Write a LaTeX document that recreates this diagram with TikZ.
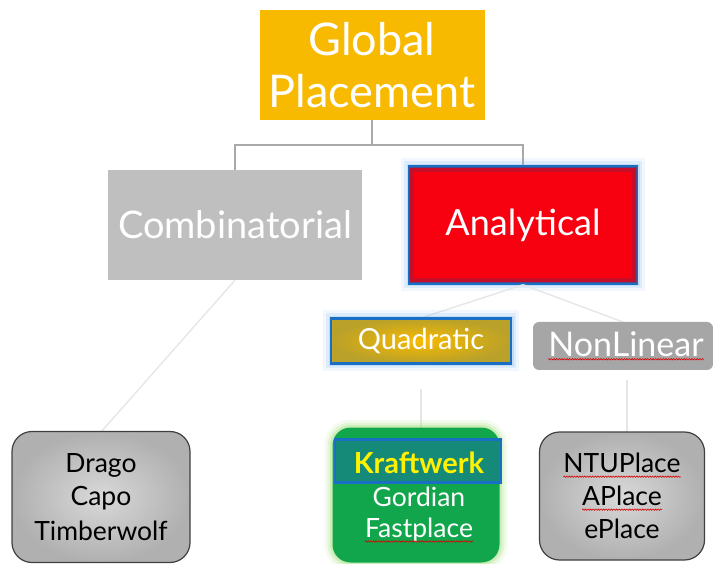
\documentclass[tikz,border=0pt]{standalone}
\usepackage{fontspec}
\setmainfont{Lato}
\usetikzlibrary{decorations.pathmorphing}

\definecolor{gpOrange}{HTML}{F8BA00}
\definecolor{gpOlive}{HTML}{B9A12A}
\definecolor{gpGray}{HTML}{BFBFBF}
\definecolor{gpDark}{HTML}{A6A6A6}
\definecolor{gpRed}{HTML}{F70010}
\definecolor{gpMaroon}{HTML}{8C2048}
\definecolor{gpBlue}{HTML}{1A6FC4}
\definecolor{gpGlow}{HTML}{8CC0F2}
\definecolor{gpGreen}{HTML}{12A64C}
\definecolor{gpTeal}{HTML}{168A78}
\definecolor{gpLime}{HTML}{9EE07A}
\definecolor{gpLine}{HTML}{A9A9A9}
\definecolor{gpFaint}{HTML}{E6E6E6}

\tikzset{
  box/.style={rectangle, text=white, inner sep=0pt, align=center},
  glowing/.style={
    preaction={draw=#1, line width=16pt, opacity=.12},
    preaction={draw=#1, line width=10pt, opacity=.2},
    preaction={draw=#1, line width=5pt, opacity=.35}},
  listbox/.style={rectangle, rounded corners=20pt, draw=black!75, line width=1.2pt,
    inner color=gray!30, outer color=gray!62, minimum width=#1},
  word/.style={inner sep=0pt, font=\fontsize{26.5}{30}\selectfont},
  link/.style={draw=gpLine, line width=1.4pt},
  faint/.style={draw=gpFaint, line width=1.4pt},
  squig/.style={draw=red!85!black, line width=0.6pt, decorate,
    decoration={snake, amplitude=0.7pt, segment length=2.6pt}}
}

\begin{document}
\begin{tikzpicture}[x=1pt,y=-1pt]
\useasboundingbox (0,0) rectangle (713,564);

% first two levels
\node[box, fill=gpOrange, minimum width=225pt, minimum height=110pt,
  font=\fontsize{45}{52}\selectfont] (global) at (372,65) {Global\\Placement};
\node[box, fill=gpGray, minimum width=254pt, minimum height=110pt,
  font=\fontsize{38}{44}\selectfont] (comb) at (235,225) {Combinatorial};
\node[box, glowing=gpGlow, fill=gpRed, draw=gpBlue, line width=2.5pt,
  minimum width=228pt, minimum height=117pt,
  font=\fontsize{36}{42}\selectfont] (anal) at (523,225) {Analytical};
\draw[gpMaroon, line width=5pt, opacity=.45]
  ([shift={(4,4)}]anal.north west) rectangle ([shift={(-4,-4)}]anal.south east);

\draw[link] (global.south) -- ++(0,25) coordinate (fork);
\draw[link] (comb.north) |- (fork) -| (anal.north);

% analytical split
\draw[faint] (comb.south) -- (101,432);
\draw[faint] (anal.south) -- (421,318);
\draw[faint] (anal.south) -- (623,322);
\draw[faint] (421,389) -- (421,428);
\draw[faint] (627,380) -- (627,432);

\node[box, glowing=gpGlow, inner color=gpOrange, outer color=gpOlive,
  draw=gpBlue, line width=2.5pt, minimum width=180pt, minimum height=45pt]
  (quad) at (421,341) {};
\node[box, font=\fontsize{29}{34}\selectfont] (quadT) at (quad) {Quadratic};
\node[box, fill=gpDark, rounded corners=6pt, minimum width=180pt, minimum height=48pt]
  (nlin) at (623,346) {};
\node[box, font=\fontsize{34}{40}\selectfont] (nlinT) at (626,344) {NonLinear};
\draw[squig] ([yshift=-3pt]nlinT.base west) -- ([yshift=-3pt]nlinT.base east);

% tool lists
\node[listbox=178pt, minimum height=131pt] (comblist) at (101,497) {};
\foreach \t [count=\i] in {Drago,Capo,Timberwolf}
  \node[word] (comb\i) at (101,{432+33*\i}) {\t};

\node[rectangle, glowing=gpLime, fill=gpGreen, rounded corners=18pt,
  minimum width=167pt, minimum height=135pt] (quadlist) at (416,495) {};
\node[rectangle, fill=gpTeal, draw=gpBlue, line width=2.5pt,
  minimum width=166pt, minimum height=43pt] (kband) at (418,461) {};
\node[word, text=yellow, font=\fontsize{29}{32}\bfseries] (quad1) at (419,463) {Kraftwerk};
\node[word, text=white] (quad2) at (419,497) {Gordian};
\node[word, text=white] (quad3) at (419,530) {Fastplace};
\draw[squig] ([yshift=-4pt]quad3.base west) -- ([yshift=-4pt]quad3.base east);

\node[listbox=165pt, minimum height=128pt] (nlinlist) at (622,496) {};
\foreach \t [count=\i] in {NTUPlace,APlace,ePlace}
  \node[word] (nlin\i) at (622,{430+33*\i}) {\t};
\foreach \i in {1,2}
  \draw[squig] ([yshift=-4pt]nlin\i.base west) -- ([yshift=-4pt]nlin\i.base east);
\end{tikzpicture}
\end{document}
